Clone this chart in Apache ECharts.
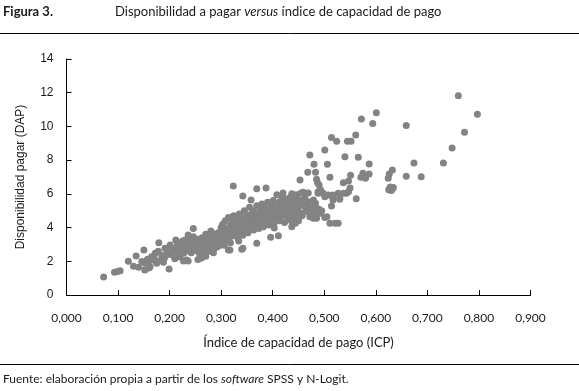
<!DOCTYPE html>
<html>
<head>
<meta charset="utf-8">
<script src="https://cdn.jsdelivr.net/npm/echarts@6/dist/echarts.min.js"></script>
<style>
  html, body { margin: 0; padding: 0; background: #fff; }
  #chart { width: 579px; height: 391px; }
</style>
</head>
<body>
<div id="chart"></div>
<script>
// ejes
const xTicks = [0, 0.1, 0.2, 0.3, 0.4, 0.5, 0.6, 0.7, 0.8, 0.9];
const yTicks = [0, 2, 4, 6, 8, 10, 12, 14];

// observaciones [ICP, DAP]
const tramoBajo = [
  [0.072,1.07],[0.093,1.35],[0.099,1.40],[0.104,1.44],[0.120,2.00],[0.130,1.70],[0.140,1.64],
  [0.135,2.31],[0.150,2.67],[0.179,3.10],[0.199,1.54],[0.152,1.48],[0.162,1.68],[0.159,1.98],
  [0.168,2.08],[0.175,1.88],[0.172,2.47],[0.146,1.98],[0.152,1.88],[0.157,2.12],[0.165,2.27],
  [0.160,1.60],[0.170,2.20],[0.182,2.05],[0.185,2.35],[0.178,2.60],[0.190,2.20],[0.195,2.50],
  [0.188,1.95],[0.205,2.60],[0.210,2.15],
  [0.191,2.77],[0.201,2.97],[0.212,3.26],[0.214,2.67],[0.207,2.37],[0.219,2.27],[0.227,2.47],
  [0.236,2.67],[0.236,2.02],[0.227,2.02],[0.236,3.56],[0.246,3.46],[0.230,3.26],[0.223,3.07],
  [0.233,2.97],[0.243,3.07],[0.249,3.26],[0.246,3.95],[0.233,2.08],[0.220,2.27],
  [0.200,2.40],[0.204,2.75],[0.209,2.50],[0.215,2.95],[0.218,2.60],[0.222,2.80],[0.225,3.20],
  [0.229,2.55],[0.231,2.80],[0.238,2.85],[0.240,3.20],[0.242,2.50],[0.245,2.75],[0.248,3.00],
  [0.251,2.65],[0.253,2.90],[0.255,3.30],[0.257,2.50],[0.259,3.10],[0.260,2.80]
];
const tramoMedio = [
  [0.262,2.55],[0.263,3.40],[0.265,2.95],[0.267,3.15],[0.268,2.70],[0.270,3.60],[0.271,3.00],
  [0.273,2.85],[0.274,3.30],[0.276,3.50],[0.277,2.60],[0.279,3.10],[0.280,3.80],[0.282,2.90],
  [0.283,3.35],[0.285,3.15],[0.286,2.75],[0.288,3.60],[0.289,3.00],[0.291,3.40],[0.292,2.85],
  [0.294,3.70],[0.295,3.20],[0.297,3.50],[0.298,2.95],[0.300,4.00],[0.300,3.30],
  [0.270,2.30],[0.262,2.20],[0.285,2.50],[0.255,2.10],
  [0.302,3.55],[0.303,4.20],[0.305,3.10],[0.306,3.80],[0.308,4.40],[0.309,3.40],[0.311,3.95],
  [0.312,3.65],[0.314,4.60],[0.315,3.25],[0.317,4.10],[0.318,3.80],[0.320,3.50],[0.321,4.35],
  [0.323,3.95],[0.324,4.70],[0.326,3.60],[0.327,4.15],[0.329,3.85],[0.330,4.50],[0.332,3.40],
  [0.333,4.05],[0.335,4.80],[0.336,3.75],[0.338,4.30],[0.339,3.95],[0.341,4.60],[0.342,3.55],
  [0.344,4.20],[0.345,5.00],[0.347,3.90],[0.348,4.45],[0.350,4.10],[0.306,2.95],[0.318,3.10],
  [0.334,3.20],
  [0.351,4.75],[0.352,3.70],[0.354,4.35],[0.355,5.20],[0.357,4.00],[0.358,4.60],[0.360,4.25],
  [0.361,5.00],[0.363,3.85],[0.364,4.50],[0.366,4.85],[0.367,4.15],[0.369,5.30],[0.370,4.40],
  [0.372,4.70],[0.373,3.95],[0.375,5.05],[0.376,4.55],[0.378,4.25],[0.379,5.40],[0.381,4.80],
  [0.382,4.05],[0.384,4.60],[0.385,5.15],[0.387,4.35],[0.388,4.90],[0.390,5.50],[0.391,4.50],
  [0.393,4.15],[0.394,5.00],[0.396,4.70],[0.397,5.30],[0.399,4.40],[0.400,4.85]
];
const tramoAlto = [
  [0.401,5.60],[0.402,4.20],[0.404,5.05],[0.405,4.60],[0.407,5.35],[0.408,5.95],[0.410,4.80],
  [0.411,5.20],[0.413,4.40],[0.414,5.55],[0.416,5.00],[0.417,4.65],[0.419,5.80],[0.420,6.05],
  [0.420,5.25],[0.422,4.85],[0.423,4.30],[0.425,5.45],[0.426,5.05],[0.428,4.70],[0.429,5.70],
  [0.431,5.15],[0.432,4.55],[0.434,5.40],[0.435,4.95],[0.437,6.00],[0.438,5.30],[0.440,4.75],
  [0.441,5.60],[0.443,5.10],[0.444,4.25],[0.446,5.95],[0.447,5.45],[0.449,4.90],[0.450,5.20],
  [0.434,5.80],[0.442,5.50],[0.448,5.70],[0.445,4.55],[0.450,4.40],[0.436,4.40],
  [0.403,3.97],[0.396,3.42],[0.411,3.52],[0.369,3.07],[0.342,2.77],[0.317,2.67],[0.314,2.67],
  [0.340,2.71],[0.437,4.55],[0.440,4.25],[0.437,4.05],
  [0.3235,6.46],[0.369,6.31],[0.387,6.35],[0.342,5.87],[0.358,5.63],[0.453,6.82],[0.468,7.28],
  [0.483,7.28],[0.480,7.75],[0.472,8.30],[0.485,6.86],[0.487,6.66],
  [0.455,6.05],[0.459,6.10],[0.466,6.03],[0.469,6.05],[0.455,5.60],[0.460,5.35],[0.465,5.10],
  [0.458,4.85],[0.462,5.75],[0.469,5.53],[0.479,5.63],[0.476,5.14],[0.485,4.94],[0.472,4.64],
  [0.479,4.55],[0.492,4.85],[0.505,4.64],[0.476,4.64],[0.485,4.55],[0.501,4.60],[0.511,4.25],
  [0.521,4.25],[0.527,4.25],[0.517,5.63],[0.530,5.73],[0.488,6.13],[0.498,6.03],[0.508,5.93],
  [0.517,5.93],[0.527,6.03],[0.537,6.03],[0.547,6.13],[0.543,6.03],[0.490,6.52],[0.493,6.23],
  [0.488,6.03],[0.501,5.83],[0.517,5.79],[0.530,5.68],[0.562,5.71],[0.514,5.28],
  [0.463,5.25],[0.468,4.95],[0.452,5.45],[0.457,4.70],[0.470,5.30],[0.474,5.00],[0.481,5.25],
  [0.489,5.10],[0.495,5.00],[0.483,5.45]
];
const tramoDisperso = [
  [0.550,6.35],[0.537,6.66],[0.547,6.76],[0.511,6.98],[0.551,7.10],[0.571,6.98],[0.580,6.92],
  [0.575,7.22],[0.587,7.18],[0.506,7.75],[0.587,7.77],[0.540,8.20],[0.566,8.17],[0.501,8.60],
  [0.514,9.35],[0.524,9.12],[0.545,9.12],[0.552,9.12],[0.561,9.49],[0.572,10.44],[0.594,10.18],
  [0.601,10.81],[0.659,10.06],[0.632,7.41],[0.626,7.18],[0.624,6.92],[0.659,7.04],[0.688,7.02],
  [0.674,7.83],[0.731,7.83],[0.748,8.72],[0.772,9.65],[0.797,10.72],[0.760,11.82],
  [0.625,6.25],[0.628,6.40],[0.632,6.30],[0.630,6.20],[0.634,6.38],[0.627,6.32]
];

const puntos = tramoBajo.concat(tramoMedio, tramoAlto, tramoDisperso);

const fuenteTexto = "Lato, 'Open Sans', sans-serif";
const fuenteEje = "'Liberation Sans', Arial, sans-serif";

const myChart = echarts.init(document.getElementById('chart'), null, {renderer: 'canvas'});

const option = {
  backgroundColor: '#fff',
  animation: false,
  grid: {
    left: 66.5,
    top: 59,
    right: 48.5,
    bottom: 96,
  },
  xAxis: {
    type: 'value',
    min: xTicks[0],
    max: xTicks[xTicks.length - 1],
    interval: 0.1,
    name: 'Índice de capacidad de pago (ICP)',
    nameLocation: 'middle',
    nameGap: 41,
    nameTextStyle: {color: '#1a1a1a', fontFamily: fuenteTexto, fontSize: 13},
    axisLine: {lineStyle: {color: '#000', width: 1}},
    axisTick: {inside: true, length: 5, lineStyle: {color: '#000'}},
    axisLabel: {
      margin: 17,
      color: '#1a1a1a',
      fontFamily: fuenteTexto,
      fontSize: 12,
      formatter: v => v.toFixed(3).replace('.', ','),
    },
    splitLine: {show: false},
  },
  yAxis: {
    type: 'value',
    min: yTicks[0],
    max: yTicks[yTicks.length - 1],
    interval: 2,
    name: 'Disponibilidad pagar (DAP)',
    nameLocation: 'middle',
    nameRotate: 90,
    nameGap: 40,
    nameTextStyle: {color: '#1a1a1a', fontFamily: fuenteEje, fontSize: 12},
    axisLine: {show: true, lineStyle: {color: '#000', width: 1}},
    axisTick: {show: true, inside: true, length: 5, lineStyle: {color: '#000'}},
    axisLabel: {margin: 13, color: '#1a1a1a', fontFamily: fuenteEje, fontSize: 12},
    splitLine: {show: false},
  },
  graphic: [
    {
      type: 'text', left: 3, top: 5,
      style: {text: 'Figura 3.', font: "bold 13px " + fuenteTexto, fill: '#1a1a1a'},
    },
    {
      type: 'text', left: 115, top: 5,
      style: {
        text: '{n|Disponibilidad a pagar }{i|versus}{n| índice de capacidad de pago}',
        rich: {
          n: {font: "13px " + fuenteTexto, fill: '#1a1a1a'},
          i: {font: "italic 13px " + fuenteTexto, fill: '#1a1a1a'},
        },
      },
    },
    {
      type: 'line', shape: {x1: 0, y1: 33.5, x2: 579, y2: 33.5},
      style: {stroke: '#000', lineWidth: 1},
    },
    {
      type: 'line', shape: {x1: 0, y1: 364.5, x2: 579, y2: 364.5},
      style: {stroke: '#000', lineWidth: 1},
    },
    {
      type: 'text', left: 3, top: 373,
      style: {
        text: '{n|Fuente: elaboración propia a partir de los }{i|software}{n| SPSS y N-Logit.}',
        rich: {
          n: {font: "12px " + fuenteTexto, fill: '#1a1a1a'},
          i: {font: "italic 12px " + fuenteTexto, fill: '#1a1a1a'},
        },
      },
    },
  ],
  series: [{
    type: 'scatter',
    symbol: 'circle',
    symbolSize: 7,
    itemStyle: {color: '#838383', opacity: 1},
    data: puntos,
  }],
};

myChart.setOption(option);
</script>
</body>
</html>
